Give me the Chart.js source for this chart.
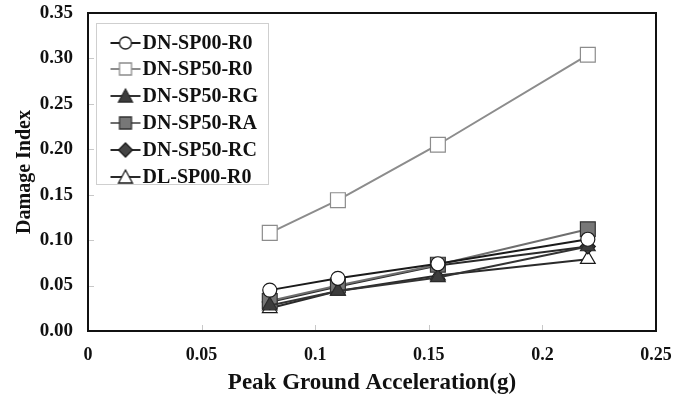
<!DOCTYPE html>
<html>
<head>
<meta charset="utf-8">
<script src="https://cdn.jsdelivr.net/npm/chart.js@4.4.1/dist/chart.umd.min.js"></script>
<style>
  html, body { margin: 0; padding: 0; background: #fff; }
  #wrap { width: 675px; height: 400px; }
</style>
</head>
<body>
<div id="wrap"><canvas id="myChart" width="675" height="400"></canvas></div>
<script>
const pga = [0.08, 0.11, 0.154, 0.22];

const dnSp00R0 = [0.045, 0.058, 0.074, 0.101];
const dnSp50R0 = [0.108, 0.144, 0.205, 0.304];
const dnSp50RG = [0.028, 0.044, 0.059, 0.093];
const dnSp50RA = [0.033, 0.050, 0.073, 0.112];
const dnSp50RC = [0.032, 0.049, 0.072, 0.093];
const dlSp00R0 = [0.025, 0.044, 0.061, 0.079];

const xTicks = [0, 0.05, 0.1, 0.15, 0.2, 0.25];
const yTicks = [0, 0.05, 0.1, 0.15, 0.2, 0.25, 0.3, 0.35];

const serif = "'Liberation Serif', 'Times New Roman', serif";

function toPoints(vals) {
    return vals.map((v, i) => ({ x: pga[i], y: v }));
}

// small line + marker icon for the legend
function legendIcon(style, fill, stroke, lineColor) {
    const c = document.createElement('canvas');
    c.width = 32;
    c.height = 18;
    const g = c.getContext('2d');
    g.strokeStyle = lineColor;
    g.lineWidth = 2;
    g.beginPath();
    g.moveTo(1, 9);
    g.lineTo(31, 9);
    g.stroke();
    g.fillStyle = fill;
    g.strokeStyle = stroke;
    g.lineWidth = 1.3;
    g.beginPath();
    if (style === 'circle') {
        g.arc(16, 9, 6, 0, Math.PI * 2);
    } else if (style === 'rect') {
        g.rect(10, 3, 12, 12);
    } else if (style === 'triangle') {
        g.moveTo(16, 2);
        g.lineTo(23, 15);
        g.lineTo(9, 15);
        g.closePath();
    } else if (style === 'rectRot') {
        g.moveTo(16, 2);
        g.lineTo(23, 9);
        g.lineTo(16, 16);
        g.lineTo(9, 9);
        g.closePath();
    }
    g.fill();
    g.stroke();
    return c;
}

const seriesStyles = [
    { label: 'DN-SP00-R0', data: dnSp00R0, line: '#1a1a1a', fill: '#ffffff', stroke: '#1a1a1a', style: 'circle', r: 7 },
    { label: 'DN-SP50-R0', data: dnSp50R0, line: '#8c8c8c', fill: '#ffffff', stroke: '#8c8c8c', style: 'rect', r: 10.5 },
    { label: 'DN-SP50-RG', data: dnSp50RG, line: '#333333', fill: '#3c3c3c', stroke: '#2a2a2a', style: 'triangle', r: 8.5 },
    { label: 'DN-SP50-RA', data: dnSp50RA, line: '#6e6e6e', fill: '#777777', stroke: '#333333', style: 'rect', r: 10.5 },
    { label: 'DN-SP50-RC', data: dnSp50RC, line: '#2a2a2a', fill: '#444444', stroke: '#1a1a1a', style: 'rectRot', r: 7.5 },
    { label: 'DL-SP00-R0', data: dlSp00R0, line: '#2a2a2a', fill: '#ffffff', stroke: '#1a1a1a', style: 'triangle', r: 8.5 }
];

const datasets = seriesStyles.map(s => ({
    label: s.label,
    data: toPoints(s.data),
    borderColor: s.line,
    borderWidth: 2,
    pointStyle: s.style,
    pointRadius: s.r,
    pointHoverRadius: s.r,
    pointBackgroundColor: s.fill,
    pointBorderColor: s.stroke,
    pointBorderWidth: 1.2,
    showLine: true,
    fill: false,
    tension: 0,
    icon: legendIcon(s.style, s.fill, s.stroke, s.line)
}));

// frame round the plot area, inner tick marks, boxed legend
const framePlugin = {
    id: 'frame',
    afterDatasetsDraw(chart) {
        const ctx = chart.ctx;
        const a = chart.chartArea;
        const xs = chart.scales.x;
        const ys = chart.scales.y;
        ctx.save();
        ctx.strokeStyle = '#c8c8c8';
        ctx.lineWidth = 1;
        xTicks.forEach(t => {
            const px = Math.round(xs.getPixelForValue(t)) + 0.5;
            ctx.beginPath();
            ctx.moveTo(px, a.bottom);
            ctx.lineTo(px, a.bottom - 6);
            ctx.stroke();
        });
        yTicks.forEach(t => {
            const py = Math.round(ys.getPixelForValue(t)) + 0.5;
            ctx.beginPath();
            ctx.moveTo(a.left, py);
            ctx.lineTo(a.left + 6, py);
            ctx.stroke();
        });
        ctx.restore();
    },
    afterDraw(chart) {
        const ctx = chart.ctx;
        const a = chart.chartArea;
        ctx.save();
        // legend
        const bx = 96.5, by = 23.5;
        ctx.fillStyle = '#fff';
        ctx.fillRect(bx, by, 172, 161);
        ctx.strokeStyle = '#cfcfcf';
        ctx.lineWidth = 1;
        ctx.strokeRect(bx, by, 172, 161);
        ctx.font = 'bold 20px ' + serif;
        ctx.textBaseline = 'middle';
        ctx.fillStyle = '#111';
        chart.data.datasets.forEach((d, i) => {
            const cy = by + 19 + i * 26.8;
            ctx.drawImage(d.icon, bx + 13, Math.round(cy - 9));
            ctx.fillText(d.label, bx + 46, cy + 1);
        });
        // frame
        ctx.strokeStyle = '#111';
        ctx.lineWidth = 2;
        ctx.strokeRect(a.left, a.top, a.right - a.left, a.bottom - a.top);
        ctx.restore();
    }
};

const ctx = document.getElementById('myChart').getContext('2d');

const scatterChart = new Chart(ctx, {
    type: 'scatter',
    data: { datasets: datasets },
    options: {
        responsive: false,
        animation: false,
        events: [],
        layout: { padding: { top: 13, right: 19, left: 0, bottom: 0 } },
        plugins: {
            tooltip: { enabled: false },
            legend: { display: false }
        },
        scales: {
            x: {
                type: 'linear',
                min: 0,
                max: 0.25,
                afterFit(scale) {
                    scale.height = 69;
                    scale.paddingLeft = 0;
                    scale.paddingRight = 0;
                },
                afterBuildTicks(scale) { scale.ticks = xTicks.map(v => ({ value: v })); },
                grid: { display: false },
                border: { display: false },
                ticks: {
                    color: '#111',
                    padding: 6,
                    font: { family: serif, size: 18, weight: 'bold' },
                    callback: v => String(v)
                },
                title: {
                    display: true,
                    text: 'Peak Ground Acceleration(g)',
                    color: '#111',
                    padding: { top: 2, bottom: 3 },
                    font: { family: serif, size: 23, weight: 'bold' }
                }
            },
            y: {
                type: 'linear',
                min: 0,
                max: 0.35,
                afterFit(scale) {
                    scale.width = 88;
                    scale.paddingTop = 0;
                    scale.paddingBottom = 0;
                },
                afterBuildTicks(scale) { scale.ticks = yTicks.map(v => ({ value: v })); },
                grid: { display: false },
                border: { display: false },
                ticks: {
                    color: '#111',
                    padding: 7,
                    font: { family: serif, size: 19, weight: 'bold' },
                    callback: v => v.toFixed(2)
                },
                title: {
                    display: true,
                    text: 'Damage Index',
                    color: '#111',
                    padding: { top: 13, bottom: 4 },
                    font: { family: serif, size: 20, weight: 'bold' }
                }
            }
        }
    },
    plugins: [framePlugin]
});
</script>
</body>
</html>
